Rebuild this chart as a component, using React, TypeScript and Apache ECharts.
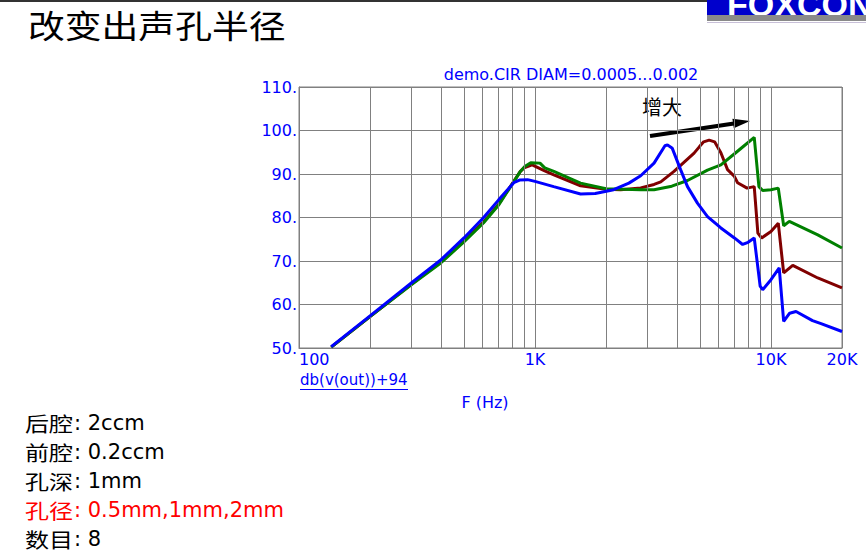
import React, { useEffect, useRef } from 'react';
import * as echarts from 'echarts';

// Frequency (Hz) / level (dB)
const blueF = [137, 200, 300, 400, 500, 606, 700, 813, 860, 930, 1000, 1200, 1560, 1800, 2154, 2500, 2805, 3196, 3554, 3642, 3818, 4140, 4429, 4881, 5384, 6134, 7000, 7585, 8000, 8494, 9000, 9222, 10000, 10840, 11320, 12000, 12770, 15000, 16300, 20000];
const blueDb = [50.3, 57.4, 65.0, 70.3, 75.3, 80.0, 84.0, 88.0, 88.6, 88.7, 88.3, 87.1, 85.4, 85.5, 86.4, 87.9, 89.6, 92.5, 96.5, 96.7, 95.9, 91.0, 87.1, 83.3, 80.2, 77.6, 75.3, 73.8, 74.3, 75.3, 64.2, 63.4, 65.7, 68.4, 56.1, 58.0, 58.4, 56.3, 55.6, 53.8];

const redF = [137, 200, 300, 400, 500, 606, 700, 813, 867, 905, 973, 1100, 1202, 1560, 2000, 2307, 2805, 3196, 3412, 3883, 4723, 4980, 5185, 5470, 5770, 6134, 6546, 6986, 7220, 7920, 8494, 8800, 9131, 10000, 10740, 11320, 12370, 15790, 20000];
const redDb = [50.2, 57.2, 64.7, 69.8, 74.6, 79.0, 83.0, 88.3, 90.6, 91.5, 92.1, 90.7, 89.8, 87.3, 86.5, 86.4, 86.8, 87.6, 88.2, 90.6, 94.8, 96.3, 97.4, 97.8, 97.4, 94.9, 91.0, 89.5, 88.0, 86.75, 87.1, 76.4, 75.3, 76.8, 78.7, 67.25, 69.0, 66.1, 63.8];

const greenF = [137, 200, 300, 400, 500, 606, 700, 813, 867, 905, 960, 1050, 1100, 1202, 1560, 2000, 2805, 3196, 3800, 4429, 5384, 6134, 6986, 7700, 8494, 8891, 9222, 10000, 10740, 11320, 11960, 15790, 20000];
const greenDb = [50.2, 57.2, 64.6, 69.6, 74.4, 78.8, 82.8, 88.2, 90.6, 91.7, 92.6, 92.5, 91.4, 90.6, 87.9, 86.6, 86.4, 86.4, 87.2, 88.5, 90.9, 92.1, 94.6, 96.5, 98.4, 87.1, 86.2, 86.4, 86.75, 78.1, 79.1, 76.0, 73.0];

const minorGridF = [200, 300, 400, 500, 600, 700, 800, 900, 2000, 3000, 4000, 5000, 6000, 7000, 8000, 9000];

const titleText = '改变出声孔半径';
const plotTitle = 'demo.CIR DIAM=0.0005...0.002';
const yName = 'db(v(out))+94';
const xName = 'F (Hz)';
const arrowText = '增大';
const paramLabels = ['后腔', '前腔', '孔深', '孔径', '数目'];
const paramValues = ['2ccm', '0.2ccm', '1mm', '0.5mm,1mm,2mm', '8'];
const paramColors = ['#000000', '#000000', '#000000', '#ff0000', '#000000'];

export default function App() {
  const ref = useRef<HTMLDivElement>(null);
  useEffect(() => {
    const chart = echarts.init(ref.current!, null, { renderer: 'svg' });
    const zip = (f: number[], d: number[]) => f.map((x, i) => [x, d[i]]);
    const curve = (name: string, f: number[], d: number[], color: string, z: number) => ({
      type: 'line',
      name,
      data: zip(f, d),
      showSymbol: false,
      symbol: 'none',
      silent: true,
      z,
      lineStyle: { color, width: 3 },
      itemStyle: { color },
    });
    const blue = '#0000ff';
    const lineYs = [422.5, 451.5, 481, 509.5, 539];
    const params: any[] = [];
    paramLabels.forEach((lab, i) => {
      params.push({
        type: 'text',
        x: 25,
        y: lineYs[i],
        scaleX: 1.2,
        style: { text: lab, fill: paramColors[i], fontFamily: 'Noto Sans CJK SC', fontSize: 20, lineHeight: 20, verticalAlign: 'middle', align: 'left' },
      });
      params.push({
        type: 'text',
        x: 74,
        y: lineYs[i],
        style: { text: `: ${paramValues[i]}`, fill: paramColors[i], fontFamily: 'DejaVu Sans', fontSize: 21, lineHeight: 22, verticalAlign: 'middle', align: 'left' },
      });
    });
    chart.setOption({
      animation: false,
      backgroundColor: '#ffffff',
      grid: { left: 299, top: 87, width: 543, height: 261, show: true, borderColor: '#808080', borderWidth: 1, backgroundColor: 'transparent' },
      xAxis: {
        type: 'log',
        logBase: 10,
        min: 100,
        max: 20000,
        axisLine: { show: true, lineStyle: { color: '#808080', width: 1 } },
        axisTick: { show: false },
        minorTick: { show: false },
        splitLine: { show: true, lineStyle: { color: '#808080', width: 1 } },
        axisLabel: {
          color: blue,
          fontFamily: 'DejaVu Sans',
          fontSize: 16,
          margin: 3,
          alignMinLabel: 'left',
          formatter: (v: number) => {
            const r = Math.round(v);
            return r >= 1000 ? `${Math.round(r / 1000)}K` : `${r}`;
          },
        },
      },
      yAxis: {
        type: 'value',
        min: 50,
        max: 110,
        interval: 10,
        axisLine: { show: true, lineStyle: { color: '#808080', width: 1 } },
        axisTick: { show: false },
        splitLine: { show: true, lineStyle: { color: '#808080', width: 1 } },
        axisLabel: {
          color: blue,
          fontFamily: 'DejaVu Sans',
          fontSize: 16,
          margin: 2,
          formatter: (v: number) => `${v}.`,
        },
      },
      series: [
        {
          type: 'line',
          data: [],
          z: 1,
          silent: true,
          markLine: {
            silent: true,
            symbol: ['none', 'none'],
            label: { show: false },
            lineStyle: { color: '#808080', type: 'solid', width: 1 },
            emphasis: { disabled: true },
            data: minorGridF.map((v) => ({ xAxis: v })),
          },
        },
        curve('1mm', redF, redDb, '#800000', 3),
        curve('2mm', greenF, greenDb, '#008000', 4),
        curve('0.5mm', blueF, blueDb, blue, 5),
      ],
      graphic: [
        { type: 'rect', shape: { x: 0, y: 0, width: 707, height: 2 }, style: { fill: '#333333' } },
        { type: 'rect', shape: { x: 707, y: 0, width: 159, height: 15 }, style: { fill: '#0000cc' } },
        {
          type: 'text', x: 727, y: 21,
          style: { text: 'FOXCONN', fill: '#ffffff', fontFamily: 'Liberation Sans', fontWeight: 'bold', fontSize: 34, verticalAlign: 'bottom', align: 'left' },
        },
        { type: 'rect', shape: { x: 707, y: 15, width: 159, height: 6 }, style: { fill: '#8a8a8a' } },
        { type: 'rect', shape: { x: 707, y: 22, width: 159, height: 1 }, style: { fill: '#c8c0d8' } },
        {
          type: 'text', x: 28, y: 24, scaleX: 1.15,
          style: { text: titleText, fill: '#000000', fontFamily: 'Noto Sans CJK SC', fontSize: 32, lineHeight: 32, verticalAlign: 'middle', align: 'left' },
        },
        {
          type: 'text', x: 571, y: 74,
          style: { text: plotTitle, fill: blue, fontFamily: 'DejaVu Sans', fontSize: 16, verticalAlign: 'middle', align: 'center' },
        },
        {
          type: 'text', x: 662, y: 106,
          style: { text: arrowText, fill: '#000000', fontFamily: 'Noto Sans CJK SC', fontSize: 20, verticalAlign: 'middle', align: 'center' },
        },
        { type: 'line', shape: { x1: 650, y1: 136, x2: 734, y2: 123.4 }, style: { stroke: '#000000', lineWidth: 4 } },
        { type: 'polygon', shape: { points: [[750, 121], [732.4, 118.8], [733.8, 128.2]] }, style: { fill: '#000000' } },
        {
          type: 'text', x: 300, y: 380,
          style: { text: yName, fill: blue, fontFamily: 'DejaVu Sans', fontSize: 15, verticalAlign: 'middle', align: 'left' },
        },
        { type: 'rect', shape: { x: 300, y: 389, width: 108, height: 1 }, style: { fill: blue } },
        {
          type: 'text', x: 485, y: 402,
          style: { text: xName, fill: blue, fontFamily: 'DejaVu Sans', fontSize: 16, verticalAlign: 'middle', align: 'center' },
        },
        ...params,
      ],
    });
    return () => chart.dispose();
  }, []);
  return <div ref={ref} style={{ position: 'absolute', left: 0, top: 0, width: 866, height: 558 }} />;
}
